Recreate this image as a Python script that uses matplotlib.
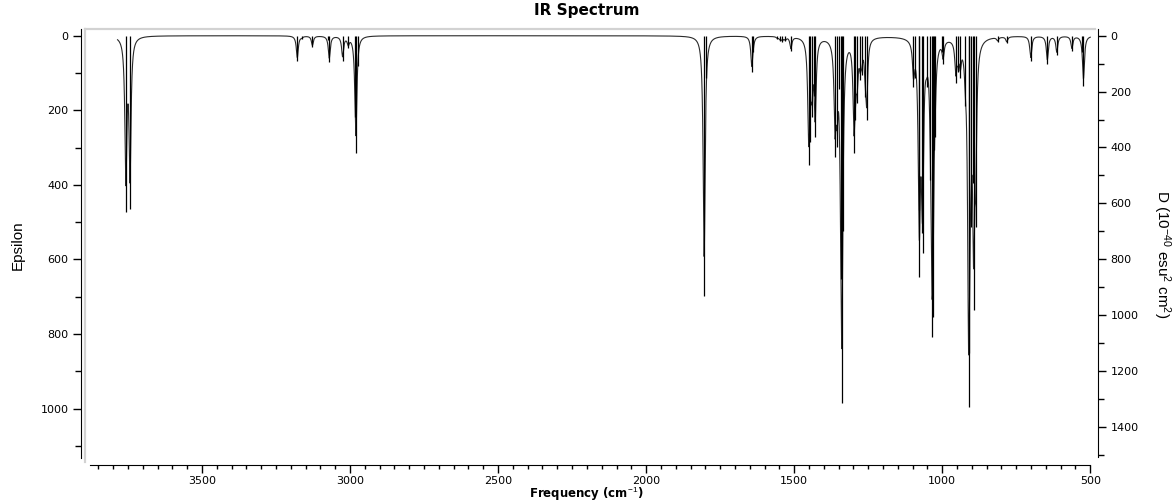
import numpy as np
import matplotlib
matplotlib.use('Agg')
import matplotlib.pyplot as plt
from matplotlib.ticker import MultipleLocator

# stick positions (cm-1) and dipole strengths D (1e-40 esu^2 cm^2)
freqs = [3757, 3743,
         3178, 3163, 3127, 3075, 3070, 3025, 3006, 2983, 2980, 2974,
         1804, 1799, 1643, 1638,
         1557, 1548, 1540, 1530, 1511,
         1451, 1447, 1440, 1434, 1429,
         1362, 1355, 1350, 1343, 1339, 1335,
         1298, 1293, 1287, 1277, 1272, 1260, 1255,
         1097, 1093, 1080, 1077, 1069, 1066, 1053,
         1040, 1035, 1031, 1027, 1024,
         1001, 997, 954, 947, 939, 922,
         911, 908, 903, 897, 894, 887,
         813, 782, 701, 645, 613, 562, 528, 523]
dipole = [632, 621,
          92, 12, 41, 15, 95, 89, 44, 290, 421, 110,
          930, 150, 130, 60,
          12, 18, 22, 20, 55,
          462, 380, 290, 215, 364,
          433, 400, 190, 870, 1316, 700,
          421, 302, 242, 159, 141, 218, 302,
          183, 150, 624, 863, 707, 779, 183,
          517, 1078, 1006, 409, 362,
          60, 100, 170, 130, 150, 250,
          1328, 1137, 684, 528, 982, 684,
          22, 26, 92, 101, 70, 54, 60, 181]

HWHM = 4.0          # Lorentzian half width (cm-1)
CURVE_FRAC = 0.85   # curve tips sit a little above the stick tips
PX_EPS = 0.373      # pixels per epsilon unit (left axis)
PX_D = 0.2793       # pixels per D unit (right axis)

f = np.array(freqs, float)
d = np.array(dipole, float)

# epsilon depth each band should reach, then solve for Lorentzian amplitudes
target = CURVE_FRAC * d * PX_D / PX_EPS
M = HWHM**2 / ((f[:, None] - f[None, :])**2 + HWHM**2)
amp = target.copy()
step = 1.0 / M.sum(axis=1).max()
for _ in range(4000):
    amp = np.clip(amp + step * (target - M @ amp), 0, None)

nu = np.linspace(3785, 500, 40000)
eps = (amp[None, :] * HWHM**2 / ((nu[:, None] - f[None, :])**2 + HWHM**2)).sum(axis=1)

plt.rcParams['mathtext.fontset'] = 'custom'
plt.rcParams['mathtext.rm'] = 'Liberation Sans'
plt.rcParams['mathtext.it'] = 'Liberation Sans'
plt.rcParams['mathtext.bf'] = 'Liberation Sans:bold'

W, H = 1172, 504
fig = plt.figure(figsize=(W / 100, H / 100), dpi=100)
rect = [85 / W, 1 - 462 / H, (1095 - 85) / W, (462 - 29) / H]

# light grey plot frame (top and left edges show)
frame = fig.add_axes(rect)
frame.set_xticks([])
frame.set_yticks([])
for k, s in frame.spines.items():
    s.set_color('#d2d2d2')
    s.set_linewidth(1.6)
    if k in ('bottom', 'right'):
        s.set_visible(False)

ax = fig.add_axes(rect, facecolor='none')
ax.plot(nu, eps, color='#2a2a2a', lw=0.8)
ax.set_xlim(3895, 484)
ax.set_ylim(1143, -18)
ax.spines['top'].set_visible(False)
ax.spines['right'].set_visible(False)
ax.spines['left'].set_position(('outward', 3))
ax.spines['bottom'].set_position(('outward', 2.2))
ax.spines['left'].set_bounds(1132, -18)
ax.spines['bottom'].set_bounds(3878, 500)
ax.yaxis.set_minor_locator(MultipleLocator(100))
ax.xaxis.set_major_locator(MultipleLocator(500))
ax.xaxis.set_minor_locator(MultipleLocator(50))
ax.set_yticks([0, 200, 400, 600, 800, 1000])
ax.tick_params(axis='y', which='major', length=6, width=1, labelsize=8, pad=3)
ax.tick_params(axis='y', which='minor', length=4, width=1)
ax.tick_params(axis='x', which='major', length=6, width=1, labelsize=8, pad=2)
ax.tick_params(axis='x', which='minor', length=3, width=1)

ax2 = ax.twinx()
ax2.vlines(f, 0, d, color='black', lw=0.9)
ax2.set_ylim(1526, -24)
for k in ['top', 'left', 'bottom']:
    ax2.spines[k].set_visible(False)
ax2.spines['right'].set_position(('outward', 2.2))
ax2.spines['right'].set_bounds(1507, -24)
ax2.set_yticks([0, 200, 400, 600, 800, 1000, 1200, 1400])
ax2.yaxis.set_minor_locator(MultipleLocator(100))
ax2.tick_params(axis='y', which='major', length=6, width=1, labelsize=8, pad=3)
ax2.tick_params(axis='y', which='minor', length=4.5, width=1)

fig.text(587 / W, 1 - 10 / H, 'IR Spectrum', ha='center', va='center',
         fontsize=11, fontweight='bold')
fig.text(586 / W, 1 - 494 / H, 'Frequency (cm$^{-1}$)', ha='center', va='center',
         fontsize=8.5, fontweight='bold')
fig.text(18 / W, 1 - 245 / H, 'Epsilon', rotation=90, ha='center', va='center',
         fontsize=11, family='Liberation Sans')
fig.text(1162 / W, 1 - 254 / H, 'D (10$^{-40}$ esu$^{2}$ cm$^{2}$)', rotation=-90,
         ha='center', va='center', fontsize=11, family='Liberation Sans')

fig.savefig('out.png', dpi=100)
